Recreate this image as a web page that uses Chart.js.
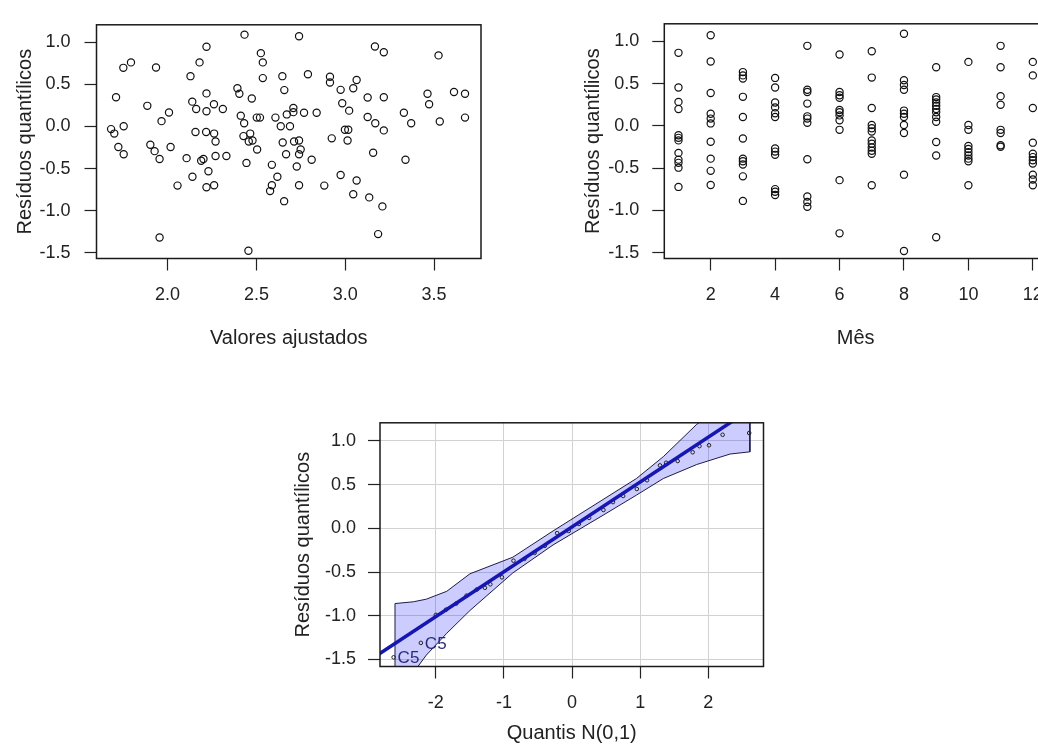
<!DOCTYPE html>
<html>
<head>
<meta charset="utf-8">
<script src="https://cdn.jsdelivr.net/npm/chart.js"></script>
<style>
  html, body { margin: 0; padding: 0; background: #fff; overflow: hidden; width: 1038px; height: 756px; }
  canvas { position: absolute; }
</style>
</head>
<body>
<canvas id="fitted" width="500" height="360" style="left:0px;top:0px"></canvas>
<canvas id="month" width="540" height="360" style="left:560px;top:0px"></canvas>
<canvas id="qq" width="520" height="356" style="left:280px;top:400px"></canvas>
<script>
// Residual diagnostics: fitted values, month, normal QQ

// Panel 1: quantile residuals vs fitted values
const fittedValues = [
  2.433, 2.219, 2.525, 2.536, 1.794, 1.751, 1.935, 2.180, 2.129, 2.536,
  2.646, 2.657, 1.710, 2.219, 2.393, 2.404, 2.474, 2.139, 2.161, 2.219,
  2.261, 2.311, 1.886, 2.008, 1.966, 2.412, 2.431, 2.502, 2.520, 2.607,
  2.671, 2.637, 2.689, 1.682, 1.700, 1.753, 2.157, 2.217, 2.262, 2.270,
  2.427, 2.465, 2.478, 2.648, 1.723, 1.753, 1.903, 1.927, 1.955, 2.017,
  2.107, 2.189, 2.202, 2.270, 2.331, 2.230, 2.140, 2.056, 2.219, 2.262,
  2.457, 2.504, 2.444, 2.667, 2.587, 2.618, 2.587, 2.577, 2.656, 1.955,
  2.455, 2.740, 3.167, 3.217, 3.525, 2.790, 2.914, 2.914, 3.064, 3.045,
  2.974, 3.126, 3.217, 3.463, 3.472, 3.612, 3.674, 3.674, 3.532, 3.330,
  3.371, 2.983, 3.022, 3.126, 3.169, 3.217, 2.708, 2.708, 2.768, 2.839,
  2.998, 3.017, 2.924, 3.013, 2.712, 2.740, 2.749, 2.740, 2.811, 2.727,
  3.157, 3.339, 2.740, 2.882, 2.974, 3.064, 3.045, 3.135, 3.209, 3.185
];
const fittedResid = [
  1.093, 0.949, 0.873, 0.763, 0.763, 0.698, 0.702, 0.763, 0.599, 0.576,
  0.599, 0.433, 0.349, 0.394, 0.456, 0.390, 0.334, 0.296, 0.208, 0.182,
  0.265, 0.208, 0.246, 0.166, 0.064, 0.129, 0.038, 0.106, 0.106, 0.106,
  0.144, 0.003, 0.003, -0.031, -0.084, 0.003, -0.065, -0.065, -0.084, -0.179,
  -0.114, -0.084, -0.167, -0.190, -0.244, -0.330, -0.216, -0.293, -0.387, -0.244,
  -0.376, -0.407, -0.387, -0.350, -0.350, -0.532, -0.597, -0.703, -0.722, -0.699,
  -0.179, -0.273, -0.433, -0.330, -0.456, -0.597, -0.699, -0.768, -0.888, -1.321,
  -1.477, 1.074, 0.952, 0.884, 0.846, 0.622, 0.592, 0.524, 0.554, 0.456,
  0.436, 0.345, 0.349, 0.390, 0.265, 0.410, 0.390, 0.106, 0.060, 0.163,
  0.038, 0.277, 0.189, 0.114, 0.038, -0.046, 0.220, 0.171, 0.163, 0.163,
  -0.039, -0.039, -0.141, -0.167, -0.179, -0.167, -0.273, -0.330, -0.395, -0.475,
  -0.312, -0.395, -0.699, -0.703, -0.577, -0.642, -0.805, -0.843, -0.950, -1.280
];
const fittedTicks = [2.0, 2.5, 3.0, 3.5];
const fittedTickLabels = ['2.0', '2.5', '3.0', '3.5'];

// Panel 2: quantile residuals by month
const months = [1, 2, 3, 4, 5, 6, 7, 8, 9, 10, 11, 12];
const residByMonth = [
  [0.866, 0.456, 0.285, 0.200, -0.110, -0.141, -0.171, -0.319, -0.399, -0.437, -0.494, -0.722],
  [1.074, 0.763, 0.391, 0.144, 0.087, 0.030, -0.187, -0.387, -0.532, -0.699],
  [0.638, 0.599, 0.561, 0.345, 0.106, -0.148, -0.387, -0.418, -0.456, -0.597, -0.888],
  [0.569, 0.456, 0.277, 0.220, 0.151, 0.106, -0.267, -0.304, -0.342, -0.748, -0.779, -0.817],
  [0.949, 0.428, 0.402, 0.265, 0.114, 0.087, 0.038, -0.395, -0.836, -0.900, -0.957],
  [0.846, 0.402, 0.364, 0.334, 0.189, 0.163, 0.125, 0.068, -0.046, -0.642, -1.272],
  [0.884, 0.573, 0.212, 0.011, -0.027, -0.065, -0.171, -0.210, -0.255, -0.293, -0.330, -0.703],
  [1.093, 0.542, 0.485, 0.428, 0.182, 0.144, 0.106, 0.011, -0.084, -0.577, -1.481],
  [0.695, 0.342, 0.314, 0.277, 0.239, 0.200, 0.163, 0.106, 0.049, -0.190, -0.350, -1.318],
  [0.759, 0.011, -0.046, -0.236, -0.273, -0.312, -0.350, -0.387, -0.418, -0.703],
  [0.949, 0.695, 0.353, 0.251, -0.046, -0.084, -0.228, -0.247],
  [0.759, 0.599, 0.212, -0.198, -0.330, -0.369, -0.407, -0.444, -0.577, -0.634, -0.703]
];
const monthTicks = [2, 4, 6, 8, 10, 12];
const monthTickLabels = ['2', '4', '6', '8', '10', '12'];

// Shared residual axis
const residTicks = [-1.5, -1.0, -0.5, 0.0, 0.5, 1.0];
const residTickLabels = ['-1.5', '-1.0', '-0.5', '0.0', '0.5', '1.0'];

// Panel 3: normal QQ plot with envelope
const qqTheo = [-2.62, -2.22, -2.0, -1.85, -1.7, -1.55, -1.4, -1.28, -1.2, -1.03, -0.86,
  -0.7, -0.55, -0.4, -0.22, -0.05, 0.1, 0.25, 0.46, 0.6, 0.75, 0.95, 1.1, 1.29, 1.38,
  1.55, 1.77, 1.87, 2.01, 2.21, 2.6];
const qqResid = [-1.475, -1.31, -0.99, -0.93, -0.86, -0.77, -0.7, -0.68, -0.64, -0.56, -0.37,
  -0.35, -0.28, -0.2, -0.055, -0.03, 0.05, 0.12, 0.21, 0.3, 0.37, 0.45, 0.55, 0.72, 0.75,
  0.77, 0.87, 0.94, 0.95, 1.07, 1.09];
const qqLineX = [-2.9, 2.9];
const qqLineY = [-1.471, 1.505];
const bandTheo = [-2.60, -2.33, -2.14, -1.84, -1.50, -0.87, -0.28, 0.455, 0.945, 1.34, 1.83, 2.32, 2.61];
const bandUpper = [-0.86, -0.84, -0.81, -0.72, -0.52, -0.33, -0.03, 0.33, 0.57, 0.82, 1.19, 1.45, 1.62];
const bandLower = [-1.9, -1.65, -1.45, -1.2, -0.94, -0.51, -0.19, 0.15, 0.38, 0.57, 0.73, 0.85, 0.875];
const idX = [-2.62, -2.22];
const idY = [-1.475, -1.31];
const idText = ['C5', 'C5'];
const qqTicks = [-2, -1, 0, 1, 2];
const qqTickLabels = ['-2', '-1', '0', '1', '2'];

const FONT = "'Liberation Sans', Arial, sans-serif";
const INK = '#222';

// Build one R-like axis with fixed ticks and fixed box size
function makeScale(o) {
  return {
    type: 'linear',
    position: o.position,
    min: o.min,
    max: o.max,
    afterBuildTicks: s => { s.ticks = o.ticks.map(v => ({ value: v })); },
    afterFit: s => {
      if (o.position === 'left') s.width = o.size;
      else s.height = o.size;
    },
    grid: {
      display: true,
      drawOnChartArea: !!o.grid,
      color: o.grid || INK,
      tickColor: INK,
      tickLength: 12,
      lineWidth: 1,
      tickWidth: 1.2
    },
    border: { display: false },
    ticks: {
      callback: (v, i) => o.labels[i],
      color: INK,
      font: { family: FONT, size: 18 },
      padding: o.tickPad,
      maxRotation: 0,
      autoSkip: false
    },
    title: {
      display: true,
      text: o.title,
      color: INK,
      font: { family: FONT, size: 20 },
      padding: { top: o.titlePad, bottom: o.titlePad }
    }
  };
}

// Box round the plot region
const boxPlugin = {
  id: 'box',
  afterDatasetsDraw(chart) {
    const { ctx, chartArea: a } = chart;
    ctx.save();
    ctx.strokeStyle = '#1a1a1a';
    ctx.lineWidth = 1.5;
    ctx.strokeRect(a.left, a.top, a.right - a.left, a.bottom - a.top);
    ctx.restore();
  }
};

// Point id labels on the QQ plot
const idPlugin = {
  id: 'ids',
  afterDatasetsDraw(chart) {
    const { ctx, scales } = chart;
    ctx.save();
    ctx.fillStyle = '#2a2a7a';
    ctx.font = '17px ' + FONT;
    ctx.textAlign = 'left';
    ctx.textBaseline = 'middle';
    idText.forEach((t, i) => {
      ctx.fillText(t, scales.x.getPixelForValue(idX[i]) + 4, scales.y.getPixelForValue(idY[i]) + 1);
    });
    ctx.restore();
  }
};

const circleStyle = {
  pointStyle: 'circle',
  pointRadius: 3.6,
  pointBorderWidth: 1.2,
  pointBorderColor: '#111',
  pointBackgroundColor: 'rgba(0,0,0,0)',
  borderColor: '#111'
};

const common = {
  responsive: false,
  animation: false,
  devicePixelRatio: 1,
  events: [],
  plugins: { legend: { display: false }, tooltip: { enabled: false } }
};

// Panel 1
new Chart(document.getElementById('fitted'), {
  type: 'scatter',
  data: {
    datasets: [Object.assign({
      data: fittedValues.map((x, i) => ({ x: x, y: fittedResid[i] }))
    }, circleStyle)]
  },
  options: Object.assign({}, common, {
    layout: { padding: { left: 0, top: 14.3, right: 19, bottom: 0 } },
    scales: {
      x: makeScale({ position: 'bottom', min: 1.60, max: 3.764, ticks: fittedTicks, labels: fittedTickLabels,
        size: 101.5, tickPad: 14, title: 'Valores ajustados', titlePad: 10 }),
      y: makeScale({ position: 'left', min: -1.57, max: 1.21, ticks: residTicks, labels: residTickLabels,
        size: 96.5, tickPad: 14, title: 'Resíduos quantílicos', titlePad: 13 })
    }
  }),
  plugins: [boxPlugin]
});

// Panel 2
const monthPoints = [];
months.forEach((m, i) => {
  residByMonth[i].forEach(r => monthPoints.push({ x: m, y: r }));
});

new Chart(document.getElementById('month'), {
  type: 'scatter',
  data: { datasets: [Object.assign({ data: monthPoints }, circleStyle)] },
  options: Object.assign({}, common, {
    layout: { padding: { left: 0, top: 14.3, right: 53, bottom: 0 } },
    scales: {
      x: makeScale({ position: 'bottom', min: 0.56, max: 12.44, ticks: monthTicks, labels: monthTickLabels,
        size: 101.5, tickPad: 14, title: 'Mês', titlePad: 10 }),
      y: makeScale({ position: 'left', min: -1.57, max: 1.21, ticks: residTicks, labels: residTickLabels,
        size: 104.3, tickPad: 13, title: 'Resíduos quantílicos', titlePad: 21 })
    }
  }),
  plugins: [boxPlugin]
});

// Panel 3
const bandShape = bandTheo.map((q, i) => ({ x: q, y: bandUpper[i] }))
  .concat(bandTheo.slice().reverse().map((q, i) => ({ x: q, y: bandLower[bandLower.length - 1 - i] })));
bandShape.push(bandShape[0]);

new Chart(document.getElementById('qq'), {
  type: 'scatter',
  data: {
    datasets: [
      {
        data: qqLineX.map((x, i) => ({ x: x, y: qqLineY[i] })),
        showLine: true,
        borderColor: '#1616b0',
        borderWidth: 3.5,
        pointRadius: 0,
        order: 1
      },
      {
        data: qqTheo.map((x, i) => ({ x: x, y: qqResid[i] })),
        pointRadius: 1.8,
        pointBorderWidth: 1,
        pointBorderColor: '#222',
        pointBackgroundColor: 'rgba(0,0,0,0)',
        order: 2
      },
      {
        data: bandShape,
        showLine: true,
        fill: 'shape',
        backgroundColor: 'rgba(0,0,255,0.2)',
        borderColor: '#1c1c48',
        borderWidth: 1,
        pointRadius: 0,
        tension: 0,
        order: 3
      }
    ]
  },
  options: Object.assign({}, common, {
    layout: { padding: { left: 0, top: 20, right: 36.5, bottom: 0 } },
    scales: {
      x: makeScale({ position: 'bottom', min: -2.82, max: 2.81, ticks: qqTicks, labels: qqTickLabels,
        size: 89.5, tickPad: 14, title: 'Quantis N(0,1)', titlePad: 10.5, grid: '#d2d2d2' }),
      y: makeScale({ position: 'left', min: -1.58, max: 1.207, ticks: residTicks, labels: residTickLabels,
        size: 100, tickPad: 12, title: 'Resíduos quantílicos', titlePad: 11.5, grid: '#d2d2d2' })
    }
  }),
  plugins: [boxPlugin, idPlugin]
});
</script>
</body>
</html>
